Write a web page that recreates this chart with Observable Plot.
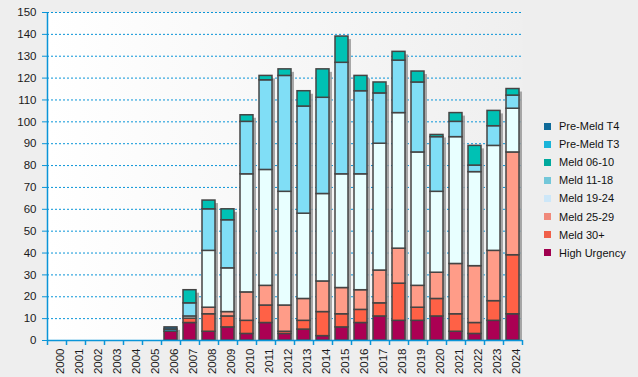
<!DOCTYPE html>
<html>
<head>
<meta charset="utf-8">
<script src="https://cdn.jsdelivr.net/npm/d3@7"></script>
<script src="https://cdn.jsdelivr.net/npm/@observablehq/plot@0.6"></script>
<style>
  html, body { margin: 0; padding: 0; background: #eeeeee; }
  #wrap { position: relative; width: 638px; height: 377px; overflow: hidden; font-family: "Liberation Sans", Arial, sans-serif; }
  #legend { position: absolute; left: 544px; top: 117px; font-size: 11px; color: #111; }
  .row { height: 18.1px; display: flex; align-items: center; white-space: nowrap; }
  .sw { width: 7px; height: 7px; margin-right: 8px; }
</style>
</head>
<body>
<div id="wrap"></div>
<script>
const years = ["2000","2001","2002","2003","2004","2005","2006","2007","2008","2009","2010","2011","2012","2013","2014","2015","2016","2017","2018","2019","2020","2021","2022","2023","2024"];
// series, bottom to top
const seriesNames = ["High Urgency","Meld 30+","Meld 25-29","Meld 19-24","Meld 11-18","Meld 06-10","Pre-Meld T3","Pre-Meld T4"];
const highUrgency = [0,0,0,0,0,0,4,8,4,6,3,8,3,5,2,6,8,11,9,9,11,4,3,9,12];
const meld30      = [0,0,0,0,0,0,0,2,8,5,6,8,1,4,11,6,6,6,17,6,8,8,5,9,27];
const meld25_29   = [0,0,0,0,0,0,0,0,3,2,13,9,12,10,14,12,9,15,16,10,12,23,26,23,47];
const meld19_24   = [0,0,0,0,0,0,0,1,26,20,54,53,52,39,40,52,53,58,62,61,37,58,43,48,20];
const meld11_18   = [0,0,0,0,0,0,0,6,19,22,24,41,53,49,44,51,38,23,24,32,25,7,3,9,6];
const meld06_10   = [0,0,0,0,0,0,0,6,4,5,3,2,3,7,13,12,7,5,4,5,1,4,9,7,3];
const preMeldT3   = [0,0,0,0,0,0,1,0,0,0,0,0,0,0,0,0,0,0,0,0,0,0,0,0,0];
const preMeldT4   = [0,0,0,0,0,0,1,0,0,0,0,0,0,0,0,0,0,0,0,0,0,0,0,0,0];
const yTicks = [0,10,20,30,40,50,60,70,80,90,100,110,120,130,140,150];

const barColors = ["#ab0053","#ff6146","#ff9c88","#e8ffff","#80def6","#00c1b4","#1ab3d8","#10689a"];
const legendOrder = ["Pre-Meld T4","Pre-Meld T3","Meld 06-10","Meld 11-18","Meld 19-24","Meld 25-29","Meld 30+","High Urgency"];
const legendColors = ["#0f6a99","#1ab4d9","#00a99d","#73c7d9","#cde7f8","#f0897a","#f05f49","#a0004f"];

const seriesValues = [highUrgency, meld30, meld25_29, meld19_24, meld11_18, meld06_10, preMeldT3, preMeldT4];
const rows = [];
years.forEach((yr, i) => {
  seriesNames.forEach((s, k) => {
    const v = seriesValues[k][i];
    if (v > 0) rows.push({year: yr, series: s, value: v});
  });
});
const totals = years.map((yr, i) => ({year: yr, total: seriesValues.reduce((a, arr) => a + arr[i], 0)})).filter(d => d.total > 0);

const W = 638, H = 377, mL = 47, mR = 116, mT = 12, mB = 37;
const bw = (W - mL - mR) / years.length;
const blue = "#0a95d8";

const chart = Plot.plot({
  width: W, height: H,
  marginLeft: mL, marginRight: mR, marginTop: mT, marginBottom: mB,
  style: {background: "transparent", fontFamily: "'Liberation Sans', Arial, sans-serif"},
  x: {domain: years, padding: 0, axis: null},
  y: {domain: [0, 150], axis: null},
  color: {domain: seriesNames, range: barColors},
  marks: [
    Plot.frame({fill: "url(#plotbg)", stroke: null}),
    Plot.ruleY(yTicks.filter(d => d > 0), {y: d => d, stroke: blue, strokeDasharray: "2,2", strokeWidth: 1}),
    Plot.ruleY(yTicks, {y: d => d, stroke: blue, insetLeft: -5, insetRight: W - mL - mR}),
    Plot.text(yTicks, {y: d => d, text: d => String(d), frameAnchor: "left", dx: -11, textAnchor: "end", fill: "#1a1a1a", fontSize: 11.5}),
    Plot.barY(totals, {x: "year", y: "total", fill: "#999999", fillOpacity: 0.85, dx: 3, dy: 3, insetLeft: 3, insetRight: 3, clip: true}),
    Plot.barY(rows, {x: "year", y: "value", fill: "series", stroke: "#444444", strokeWidth: 1.5, insetLeft: 3, insetRight: 3}),
    Plot.ruleY([0], {y: d => d, stroke: blue, strokeWidth: 1.5}),
    Plot.ruleX([years[0]], {x: d => d, dx: -bw / 2, stroke: blue, strokeWidth: 1.5}),
    Plot.ruleX(years, {x: d => d, y1: () => 0, y2: () => 0, insetBottom: -5, dx: -bw / 2, stroke: blue, strokeWidth: 1.5}),
    Plot.ruleX([years[years.length - 1]], {x: d => d, y1: () => 0, y2: () => 0, insetBottom: -5, dx: bw / 2, stroke: blue, strokeWidth: 1.5}),
    Plot.text(years, {x: d => d, y: () => 0, text: d => d, rotate: -90, textAnchor: "end", dy: 8, dx: 3.5, fill: "#1a1a1a", fontSize: 11.5})
  ]
});

const ns = "http://www.w3.org/2000/svg";
const defs = document.createElementNS(ns, "defs");
defs.innerHTML = '<linearGradient id="plotbg" x1="0" y1="0" x2="1" y2="0"><stop offset="0" stop-color="#ffffff"/><stop offset="1" stop-color="#efefef"/></linearGradient>';
chart.insertBefore(defs, chart.firstChild);

const wrap = document.getElementById("wrap");
wrap.appendChild(chart);

const legend = document.createElement("div");
legend.id = "legend";
legendOrder.forEach((name, i) => {
  const r = document.createElement("div");
  r.className = "row";
  r.innerHTML = `<div class="sw" style="background:${legendColors[i]}"></div><span>${name}</span>`;
  legend.appendChild(r);
});
wrap.appendChild(legend);
</script>
</body>
</html>
